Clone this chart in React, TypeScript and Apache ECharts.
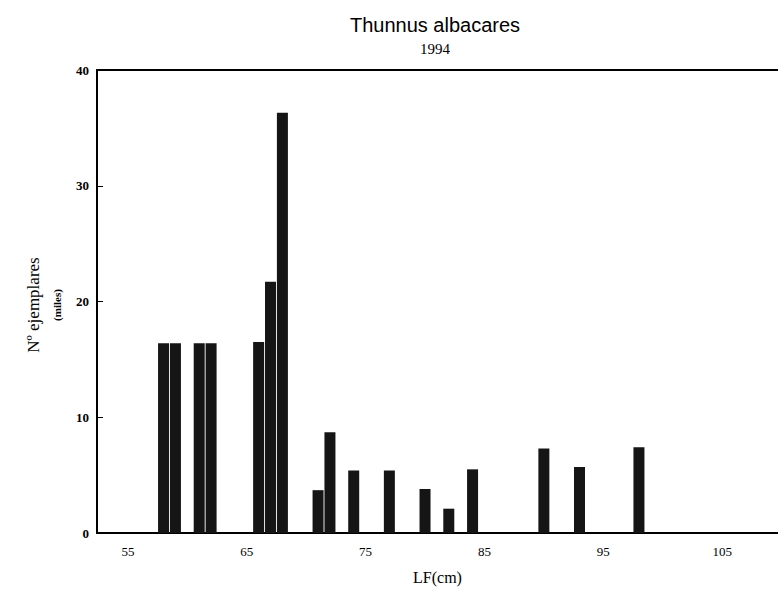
import React, { useEffect, useRef } from "react";
import * as echarts from "echarts";

const lengthsCm: number[] = [58, 59, 61, 62, 66, 67, 68, 71, 72, 74, 77, 80, 82, 84, 90, 93, 98];
const specimensThousands: number[] = [16.4, 16.4, 16.4, 16.4, 16.5, 21.7, 36.3, 3.7, 8.7, 5.4, 5.4, 3.8, 2.1, 5.5, 7.3, 5.7, 7.4];
const xTickValues: number[] = [55, 65, 75, 85, 95, 105];
const yTickValues: number[] = [0, 10, 20, 30, 40];

export default function App() {
  const ref = useRef<HTMLDivElement>(null);
  useEffect(() => {
    if (!ref.current) return;
    const chart = echarts.init(ref.current, null, { renderer: "svg" });
    const data = lengthsCm.map((x, i) => [x, specimensThousands[i]]);
    chart.setOption({
      animation: false,
      backgroundColor: "#ffffff",
      title: [
        {
          text: "Thunnus albacares",
          left: 430,
          top: 10,
          textAlign: "center",
          textStyle: { fontFamily: "Liberation Sans, Arial, sans-serif", fontSize: 20, fontWeight: "normal", color: "#000" },
        },
        {
          text: "1994",
          left: 430,
          top: 36,
          textAlign: "center",
          textStyle: { fontFamily: "Liberation Serif, serif", fontSize: 15, fontWeight: "normal", color: "#000" },
        },
      ],
      grid: { left: 97, top: 70, right: 0, bottom: 52, show: false },
      xAxis: [
        {
          type: "value",
          min: 52.4,
          max: 109.7,
          splitLine: { show: false },
          axisLine: { show: true, lineStyle: { color: "#000", width: 2 } },
          axisTick: { show: false },
          axisLabel: {
            customValues: xTickValues,
            fontFamily: "Liberation Serif, serif",
            fontSize: 13,
            color: "#000",
            margin: 12,
          },
          name: "LF(cm)",
          nameLocation: "middle",
          nameGap: 36,
          nameTextStyle: { fontFamily: "Liberation Serif, serif", fontSize: 16, color: "#000" },
        },
        {
          type: "value",
          position: "top",
          min: 52.4,
          max: 109.7,
          splitLine: { show: false },
          axisLine: { show: true, lineStyle: { color: "#000", width: 2 } },
          axisTick: { show: false },
          axisLabel: { show: false },
        },
      ],
      yAxis: {
        type: "value",
        min: 0,
        max: 40,
        interval: 10,
        splitLine: { show: false },
        axisLine: { show: true, lineStyle: { color: "#000", width: 2 } },
        axisTick: { show: true, inside: true, length: 6, lineStyle: { color: "#000", width: 1 }, customValues: yTickValues },
        axisLabel: {
          fontFamily: "Liberation Serif, serif",
          fontSize: 13,
          fontWeight: "bold",
          color: "#000",
          margin: 8,
        },
      },
      graphic: [
        {
          type: "text",
          x: 33,
          y: 305,
          rotation: Math.PI / 2,
          style: {
            text: "Nº ejemplares",
            fontFamily: "Liberation Serif, serif",
            fontSize: 17,
            fill: "#000",
            textAlign: "center",
            textVerticalAlign: "middle",
          },
        },
        {
          type: "text",
          x: 57,
          y: 305,
          rotation: Math.PI / 2,
          style: {
            text: "(miles)",
            fontFamily: "Liberation Serif, serif",
            fontSize: 11,
            fontWeight: "bold",
            fill: "#000",
            textAlign: "center",
            textVerticalAlign: "middle",
          },
        },
      ],
      series: [
        {
          type: "bar",
          xAxisIndex: 0,
          data,
          barWidth: 11,
          itemStyle: { color: "#151515" },
        },
      ],
    });
    return () => chart.dispose();
  }, []);
  return <div ref={ref} style={{ position: "absolute", left: 0, top: 0, width: 778, height: 590 }} />;
}
